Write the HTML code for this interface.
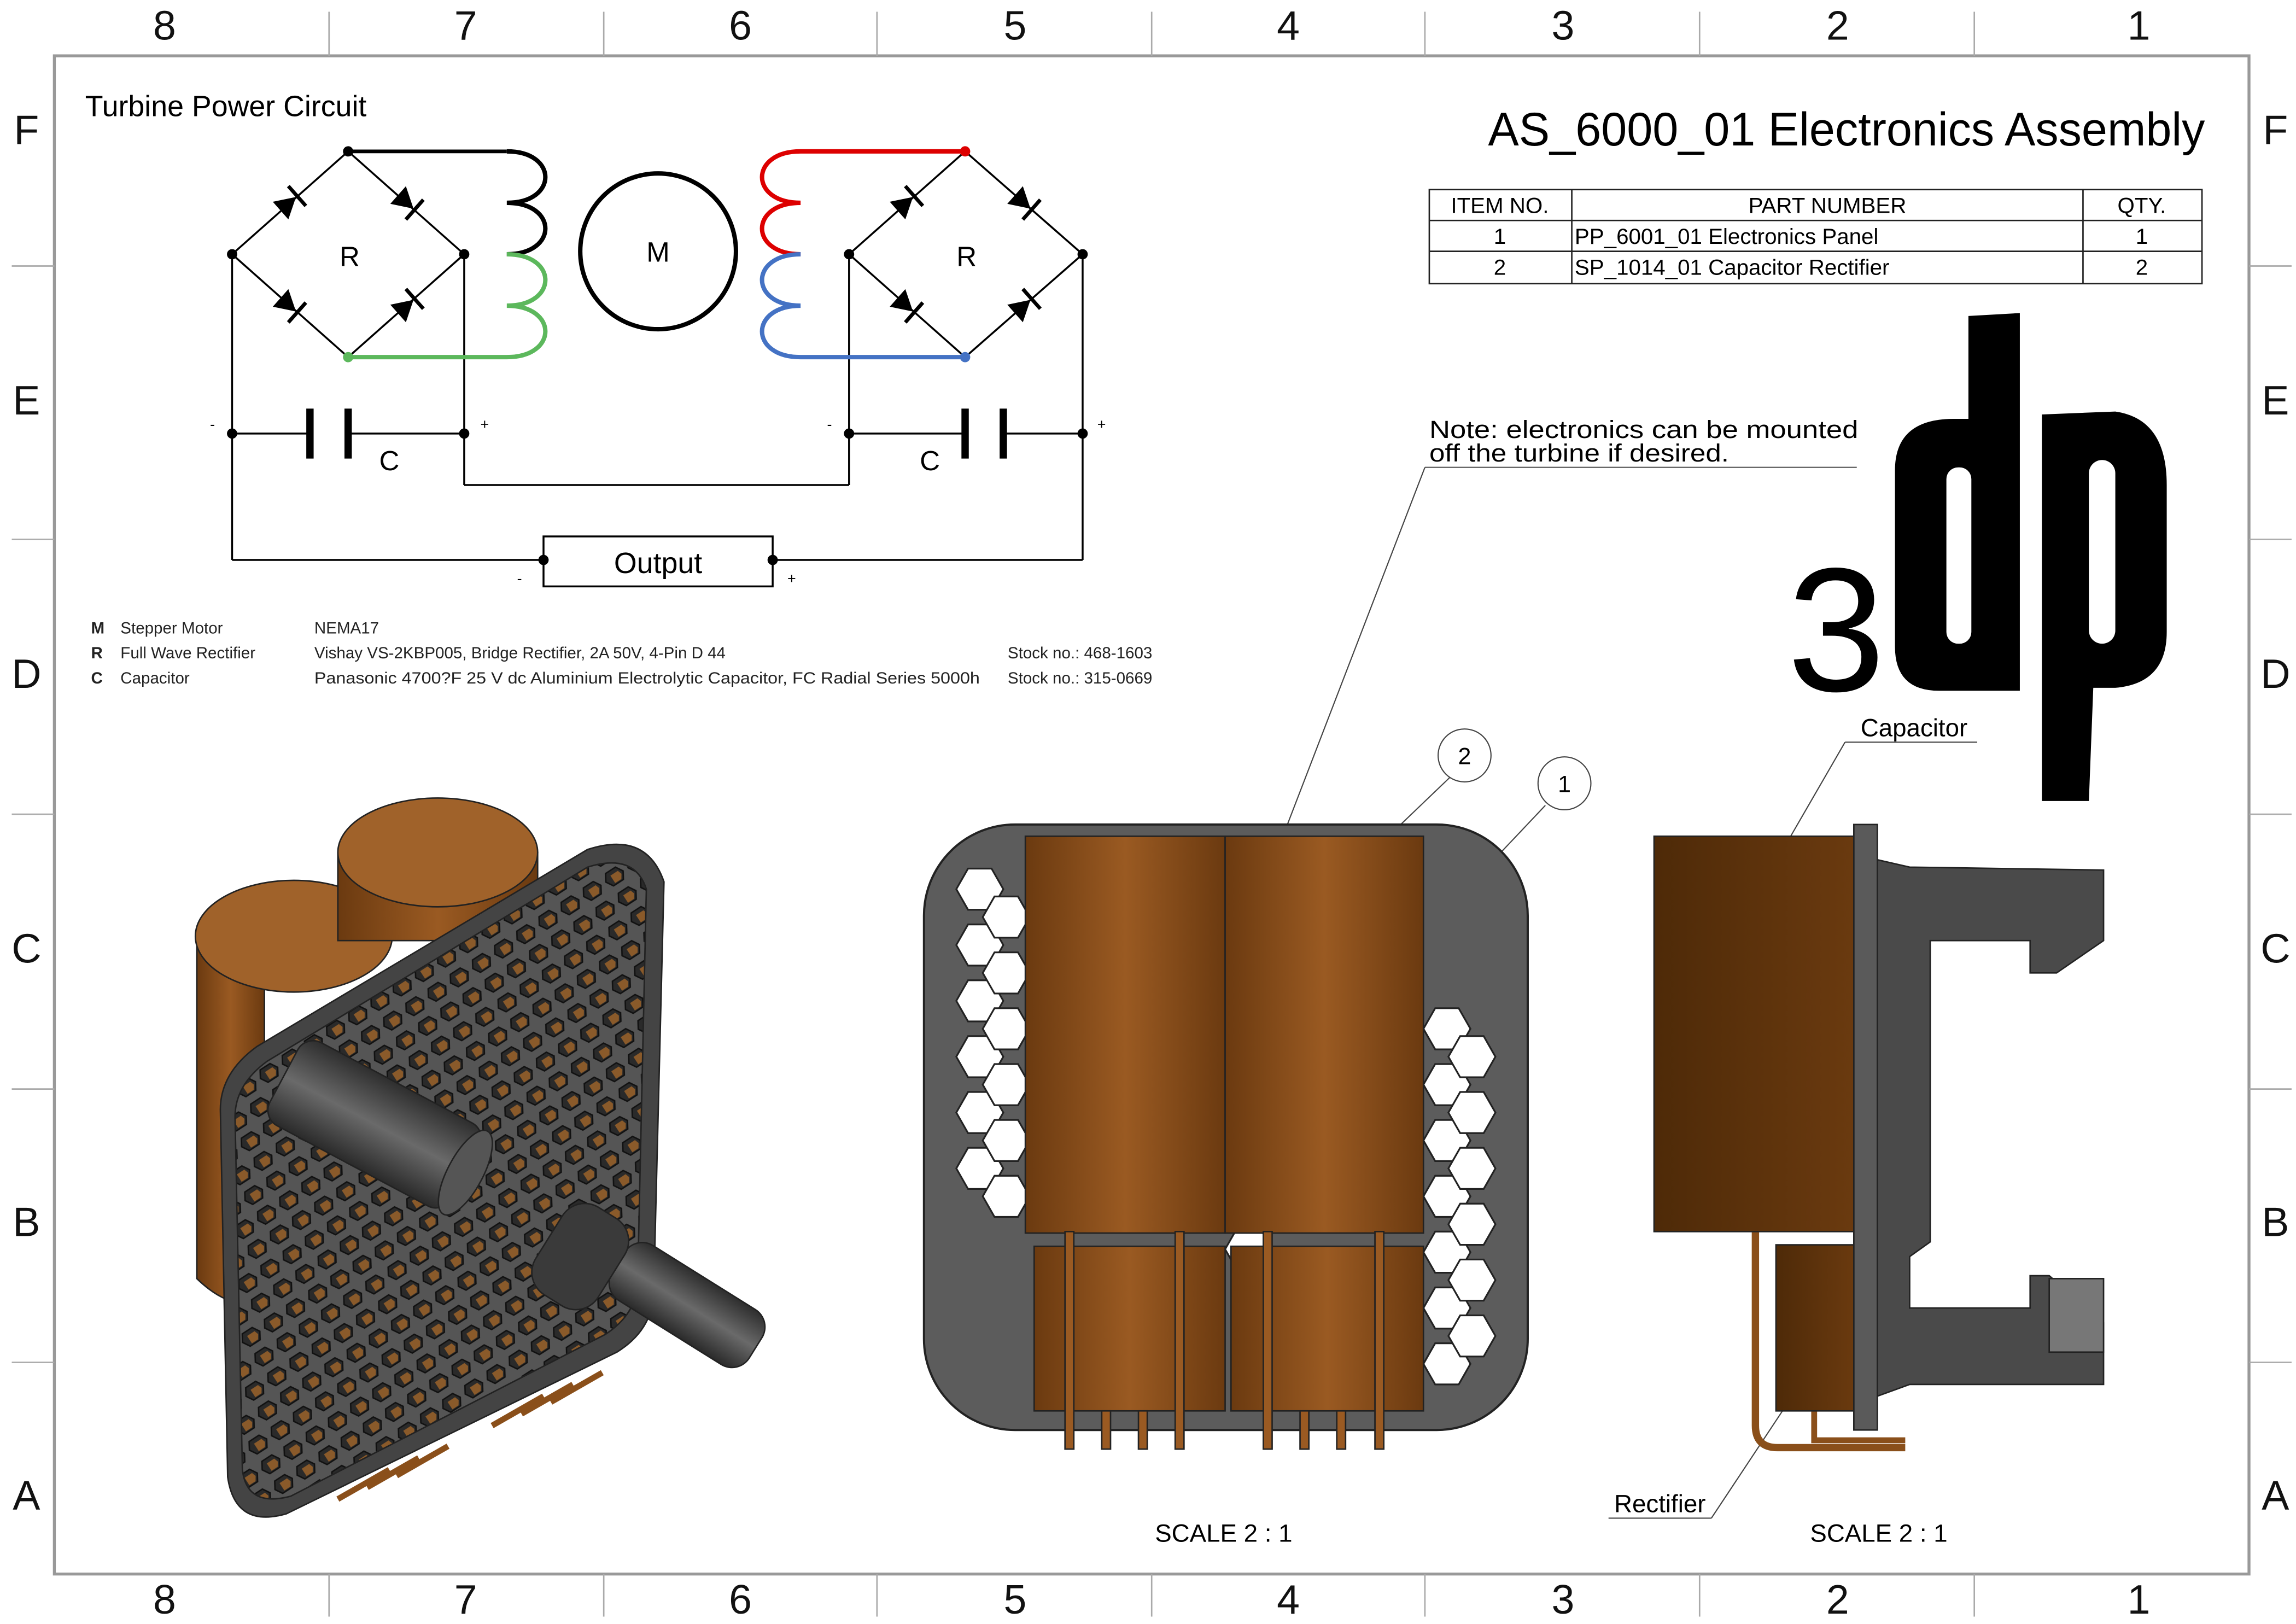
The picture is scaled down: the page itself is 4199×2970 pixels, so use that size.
<!DOCTYPE html>
<html><head><meta charset="utf-8"><style>
html,body{margin:0;padding:0;background:#fff}
svg{display:block}
text{font-family:"Liberation Sans",sans-serif}
</style></head><body>
<svg width="4199" height="2970" viewBox="0 0 1563 1105" preserveAspectRatio="none" xmlns="http://www.w3.org/2000/svg">
<defs>
<linearGradient id="cap" x1="0" x2="1" y1="0" y2="0">
<stop offset="0" stop-color="#6b3a10"/><stop offset="0.5" stop-color="#9a5a22"/><stop offset="1" stop-color="#6b3a10"/></linearGradient>
<linearGradient id="capd" x1="0" x2="1"><stop offset="0" stop-color="#4e2a08"/><stop offset="1" stop-color="#6a3a0f"/></linearGradient>
<linearGradient id="cyl" x1="0" x2="0" y1="0" y2="1"><stop offset="0" stop-color="#2e2e2e"/><stop offset="0.5" stop-color="#6a6a6a"/><stop offset="1" stop-color="#2a2a2a"/></linearGradient>
<pattern id="hexp" width="18" height="16" patternUnits="userSpaceOnUse" patternTransform="rotate(-33)">
<rect width="18" height="16" fill="#555"/>
<polygon points="4,3 12,3 15,8 12,13 4,13 1,8" fill="#2a2a2a" stroke="#111" stroke-width="1"/>
<polygon points="6,6 12,6 13,9 11,12 6,12" fill="#8a5a2a"/>
</pattern>
<g id="diode"><polygon points="-8,-8 -8,8 6,0" fill="#000"/><line x1="7" y1="-9" x2="7" y2="9" stroke="#000" stroke-width="2.5"/></g>
<polygon id="hex" points="-8,-14 8,-14 16,0 8,14 -8,14 -16,0" fill="#fff" stroke="#222" stroke-width="1.2"/>
</defs>
<rect width="1563" height="1105" fill="#fff"/>
<rect x="37" y="38" width="1494" height="1033" fill="none" stroke="#999" stroke-width="2"/>
<g stroke="#aaa" stroke-width="1">
<line x1="224" y1="8" x2="224" y2="38"/><line x1="411" y1="8" x2="411" y2="38"/><line x1="597" y1="8" x2="597" y2="38"/><line x1="784" y1="8" x2="784" y2="38"/><line x1="970" y1="8" x2="970" y2="38"/><line x1="1157" y1="8" x2="1157" y2="38"/><line x1="1344" y1="8" x2="1344" y2="38"/>
<line x1="224" y1="1071" x2="224" y2="1100"/><line x1="411" y1="1071" x2="411" y2="1100"/><line x1="597" y1="1071" x2="597" y2="1100"/><line x1="784" y1="1071" x2="784" y2="1100"/><line x1="970" y1="1071" x2="970" y2="1100"/><line x1="1157" y1="1071" x2="1157" y2="1100"/><line x1="1344" y1="1071" x2="1344" y2="1100"/>
<line x1="8" y1="181" x2="37" y2="181"/><line x1="8" y1="367" x2="37" y2="367"/><line x1="8" y1="554" x2="37" y2="554"/><line x1="8" y1="741" x2="37" y2="741"/><line x1="8" y1="927" x2="37" y2="927"/>
<line x1="1531" y1="181" x2="1560" y2="181"/><line x1="1531" y1="367" x2="1560" y2="367"/><line x1="1531" y1="554" x2="1560" y2="554"/><line x1="1531" y1="741" x2="1560" y2="741"/><line x1="1531" y1="927" x2="1560" y2="927"/>
</g>
<g font-size="28" text-anchor="middle" fill="#111">
<text x="112" y="27">8</text><text x="317" y="27">7</text><text x="504" y="27">6</text><text x="691" y="27">5</text><text x="877" y="27">4</text><text x="1064" y="27">3</text><text x="1251" y="27">2</text><text x="1456" y="27">1</text>
<text x="112" y="1098">8</text><text x="317" y="1098">7</text><text x="504" y="1098">6</text><text x="691" y="1098">5</text><text x="877" y="1098">4</text><text x="1064" y="1098">3</text><text x="1251" y="1098">2</text><text x="1456" y="1098">1</text>
<text x="18" y="98">F</text><text x="18" y="282">E</text><text x="18" y="468">D</text><text x="18" y="655">C</text><text x="18" y="841">B</text><text x="18" y="1027">A</text>
<text x="1549" y="98">F</text><text x="1549" y="282">E</text><text x="1549" y="468">D</text><text x="1549" y="655">C</text><text x="1549" y="841">B</text><text x="1549" y="1027">A</text>
</g>
<text x="58" y="79" font-size="20">Turbine Power Circuit</text>
<g stroke="#000" stroke-width="1.3" fill="none">
<polygon points="237,103 316,173 237,243 158,173"/>
<polygon points="657,103 737,173 657,243 578,173"/>
<line x1="237" y1="103" x2="345" y2="103" stroke-width="2.5"/>
<line x1="158" y1="173" x2="158" y2="381"/><line x1="316" y1="173" x2="316" y2="330"/>
<line x1="578" y1="173" x2="578" y2="330"/><line x1="737" y1="173" x2="737" y2="381"/>
<line x1="316" y1="330" x2="578" y2="330"/>
<line x1="158" y1="295" x2="210" y2="295"/><line x1="238" y1="295" x2="316" y2="295"/>
<line x1="578" y1="295" x2="657" y2="295"/><line x1="684" y1="295" x2="737" y2="295"/>
<line x1="158" y1="381" x2="370" y2="381"/><line x1="526" y1="381" x2="737" y2="381"/>
<rect x="370" y="365" width="156" height="34"/>
<circle cx="448" cy="171" r="53" stroke-width="3"/>
<path d="M345,103 C380,103 380,138 345,138 C380,138 380,173 345,173" stroke-width="3"/>
</g>
<path d="M345,173 C380,173 380,208 345,208 C380,208 380,243 345,243 L237,243" stroke="#5cb85c" stroke-width="3" fill="none"/>
<path d="M657,103 L545,103 C510,103 510,138 545,138 C510,138 510,173 545,173" stroke="#dd0000" stroke-width="3" fill="none"/>
<path d="M545,173 C510,173 510,208 545,208 C510,208 510,243 545,243 L657,243" stroke="#4472c4" stroke-width="3" fill="none"/>
<g stroke="#000" stroke-width="5"><line x1="211" y1="278" x2="211" y2="312"/><line x1="237" y1="278" x2="237" y2="312"/><line x1="657" y1="278" x2="657" y2="312"/><line x1="683" y1="278" x2="683" y2="312"/></g>
<g fill="#000"><circle cx="237" cy="103" r="3.5"/><circle cx="158" cy="173" r="3.5"/><circle cx="316" cy="173" r="3.5"/><circle cx="237" cy="243" r="3.5" fill="#5cb85c"/><circle cx="657" cy="103" r="3.5" fill="#d00"/><circle cx="578" cy="173" r="3.5"/><circle cx="737" cy="173" r="3.5"/><circle cx="657" cy="243" r="3.5" fill="#4472c4"/><circle cx="158" cy="295" r="3.5"/><circle cx="316" cy="295" r="3.5"/><circle cx="578" cy="295" r="3.5"/><circle cx="737" cy="295" r="3.5"/><circle cx="370" cy="381" r="3.5"/><circle cx="526" cy="381" r="3.5"/></g>
<use href="#diode" transform="translate(197,138) rotate(-41.5)"/>
<use href="#diode" transform="translate(277,138) rotate(41.5)"/>
<use href="#diode" transform="translate(197,208) rotate(41.5)"/>
<use href="#diode" transform="translate(277,208) rotate(-41.5)"/>
<use href="#diode" transform="translate(617,138) rotate(-41.5)"/>
<use href="#diode" transform="translate(697,138) rotate(41.5)"/>
<use href="#diode" transform="translate(617,208) rotate(41.5)"/>
<use href="#diode" transform="translate(697,208) rotate(-41.5)"/>
<g font-size="19" text-anchor="middle"><text x="238" y="181">R</text><text x="658" y="181">R</text><text x="448" y="178">M</text><text x="265" y="320">C</text><text x="633" y="320">C</text><text x="448" y="390" font-size="20">Output</text></g>
<g font-size="10"><text x="143" y="292">-</text><text x="327" y="292">+</text><text x="563" y="292">-</text><text x="747" y="292">+</text><text x="352" y="397">-</text><text x="536" y="397">+</text></g>
<g font-size="11" fill="#222">
<text x="62" y="431" font-weight="bold">M</text><text x="82" y="431">Stepper Motor</text><text x="214" y="431">NEMA17</text>
<text x="62" y="448" font-weight="bold">R</text><text x="82" y="448">Full Wave Rectifier</text><text x="214" y="448">Vishay VS-2KBP005, Bridge Rectifier, 2A 50V, 4-Pin D 44</text><text x="686" y="448">Stock no.: 468-1603</text>
<text x="62" y="465" font-weight="bold">C</text><text x="82" y="465">Capacitor</text><text x="214" y="465" textLength="453" lengthAdjust="spacingAndGlyphs">Panasonic 4700?F 25 V dc Aluminium Electrolytic Capacitor, FC Radial Series 5000h</text><text x="686" y="465">Stock no.: 315-0669</text>
</g>
<text x="1501" y="99" font-size="32" text-anchor="end" textLength="488" lengthAdjust="spacingAndGlyphs">AS_6000_01 Electronics Assembly</text>
<g stroke="#222" stroke-width="1" fill="none"><rect x="973" y="129" width="526" height="64"/><line x1="973" y1="150" x2="1499" y2="150"/><line x1="973" y1="171" x2="1499" y2="171"/><line x1="1070" y1="129" x2="1070" y2="193"/><line x1="1418" y1="129" x2="1418" y2="193"/></g>
<g font-size="15"><text x="1021" y="145" text-anchor="middle">ITEM NO.</text><text x="1244" y="145" text-anchor="middle">PART NUMBER</text><text x="1458" y="145" text-anchor="middle">QTY.</text>
<text x="1021" y="166" text-anchor="middle">1</text><text x="1072" y="166">PP_6001_01 Electronics Panel</text><text x="1458" y="166" text-anchor="middle">1</text>
<text x="1021" y="187" text-anchor="middle">2</text><text x="1072" y="187">SP_1014_01 Capacitor Rectifier</text><text x="1458" y="187" text-anchor="middle">2</text></g>
<text x="1250" y="470" font-size="120" text-anchor="middle" fill="#000">3</text>
<path d="M1340,215 L1375,213 L1375,470 L1320,470 Q1290,470 1290,440 L1290,320 Q1290,285 1330,285 L1340,285 Z" fill="#000"/>
<rect x="1325" y="318" width="17" height="120" rx="8" fill="#fff"/>
<path d="M1390,282 L1440,280 Q1475,285 1475,330 L1475,430 Q1475,465 1440,468 L1425,468 L1422,545 L1390,545 Z" fill="#000"/>
<rect x="1422" y="313" width="18" height="125" rx="9" fill="#fff"/>
<text x="973" y="298" font-size="17" textLength="292" lengthAdjust="spacingAndGlyphs">Note: electronics can be mounted</text>
<text x="973" y="314" font-size="17" textLength="204" lengthAdjust="spacingAndGlyphs">off the turbine if desired.</text>
<line x1="970" y1="318" x2="1264" y2="318" stroke="#555" stroke-width="0.8"/>
<g stroke="#444" stroke-width="0.8" fill="none">
<line x1="970" y1="318" x2="866" y2="588"/><line x1="988" y1="528" x2="918" y2="595"/><line x1="1052" y1="548" x2="999" y2="604"/>
<circle cx="997" cy="514" r="18" fill="#fff"/><circle cx="1065" cy="533" r="18" fill="#fff"/>
<line x1="1256" y1="505" x2="1346" y2="505"/><line x1="1256" y1="505" x2="1208" y2="588"/>
<line x1="1095" y1="1033" x2="1165" y2="1033"/><line x1="1165" y1="1033" x2="1230" y2="935"/>
</g>
<g font-size="16" text-anchor="middle"><text x="997" y="520">2</text><text x="1065" y="539">1</text></g>
<text x="1303" y="501" font-size="17" text-anchor="middle">Capacitor</text>
<text x="1130" y="1029" font-size="17" text-anchor="middle">Rectifier</text>
<text x="833" y="1049" font-size="17" text-anchor="middle">SCALE 2 : 1</text>
<text x="1279" y="1049" font-size="17" text-anchor="middle">SCALE 2 : 1</text>
<!-- front view -->
<rect x="629" y="561" width="411" height="412" rx="62" fill="#5c5c5c" stroke="#222" stroke-width="1.5"/>
<g>
<use href="#hex" x="667" y="605"/><use href="#hex" x="667" y="643"/><use href="#hex" x="667" y="681"/><use href="#hex" x="667" y="719"/><use href="#hex" x="667" y="757"/><use href="#hex" x="667" y="795"/><use href="#hex" x="685" y="624"/><use href="#hex" x="685" y="662"/><use href="#hex" x="685" y="700"/><use href="#hex" x="685" y="738"/><use href="#hex" x="685" y="776"/><use href="#hex" x="685" y="814"/>
<use href="#hex" x="985" y="700"/><use href="#hex" x="985" y="738"/><use href="#hex" x="985" y="776"/><use href="#hex" x="985" y="814"/><use href="#hex" x="985" y="852"/><use href="#hex" x="985" y="890"/><use href="#hex" x="985" y="928"/><use href="#hex" x="1002" y="719"/><use href="#hex" x="1002" y="757"/><use href="#hex" x="1002" y="795"/><use href="#hex" x="1002" y="833"/><use href="#hex" x="1002" y="871"/><use href="#hex" x="1002" y="909"/>
<use href="#hex" x="850" y="850"/>
</g>
<g stroke="#222" stroke-width="1">
<rect x="704" y="848" width="130" height="112" fill="url(#cap)"/><rect x="838" y="848" width="131" height="112" fill="url(#cap)"/>
<rect x="698" y="569" width="136" height="270" fill="url(#cap)"/><rect x="834" y="569" width="135" height="270" fill="url(#cap)"/>
<g fill="#9a5a22"><rect x="725" y="838" width="6" height="148"/><rect x="800" y="838" width="6" height="148"/><rect x="860" y="838" width="6" height="148"/><rect x="936" y="838" width="6" height="148"/><rect x="750" y="960" width="6" height="26"/><rect x="775" y="960" width="6" height="26"/><rect x="885" y="960" width="6" height="26"/><rect x="910" y="960" width="6" height="26"/></g>
</g>
<!-- side view -->
<g stroke="#222" stroke-width="1">
<path d="M1195,838 L1195,970 Q1195,985 1210,985 L1297,985" fill="none" stroke="#8a4f1a" stroke-width="5"/>
<path d="M1235,950 L1235,980 L1297,980" fill="none" stroke="#8a4f1a" stroke-width="4"/>
<rect x="1126" y="569" width="136" height="269" fill="url(#capd)"/>
<rect x="1209" y="847" width="53" height="113" fill="url(#capd)"/>
<rect x="1262" y="561" width="16" height="412" fill="#5a5a5a"/>
<path d="M1278,585 L1300,590 L1432,592 L1432,640 L1400,662 L1382,662 L1382,640 L1314,640 L1314,845 L1300,855 L1300,890 L1382,890 L1382,868 L1395,868 L1432,900 L1432,942 L1300,942 L1278,950 Z" fill="#4a4a4a"/>
<rect x="1395" y="870" width="37" height="50" fill="#777"/>
</g>
<!-- iso view -->
<g stroke="#222" stroke-width="1">
<path d="M134,635 L134,870 Q160,895 180,882 L180,640 Z" fill="url(#cap)"/>
<ellipse cx="200" cy="637" rx="67" ry="38" fill="#a0622a"/>
<path d="M230,580 L230,640 L366,640 L366,580 Z" fill="url(#cap)"/>
<ellipse cx="298" cy="580" rx="68" ry="37" fill="#a0622a"/>
<path d="M150,755 Q150,730 175,712 L400,578 Q440,565 452,600 L445,880 Q444,905 420,920 L195,1030 Q160,1040 155,1005 Z" fill="#444"/>
<path d="M160,760 Q160,738 182,722 L400,590 Q432,580 440,605 L434,875 Q432,895 412,908 L198,1018 Q168,1026 165,1000 Z" fill="url(#hexp)"/>
<g transform="translate(255,765) rotate(28)">
<rect x="-70" y="-32" width="140" height="64" rx="12" fill="url(#cyl)"/>
<ellipse cx="70" cy="0" rx="12" ry="32" fill="#555"/>
</g>
<g transform="translate(455,880) rotate(32)">
<rect x="-40" y="-22" width="110" height="44" rx="14" fill="url(#cyl)"/>
</g>
<g transform="translate(395,855) rotate(32)">
<rect x="-25" y="-35" width="50" height="70" rx="18" fill="#3a3a3a"/>
</g>
<g stroke="#8a4f1a" stroke-width="4"><line x1="230" y1="1020" x2="265" y2="1000"/><line x1="250" y1="1012" x2="285" y2="992"/><line x1="270" y1="1004" x2="305" y2="984"/><line x1="335" y1="970" x2="370" y2="950"/><line x1="355" y1="962" x2="390" y2="942"/><line x1="375" y1="954" x2="410" y2="934"/></g>
</g>
</svg>
</body></html>
